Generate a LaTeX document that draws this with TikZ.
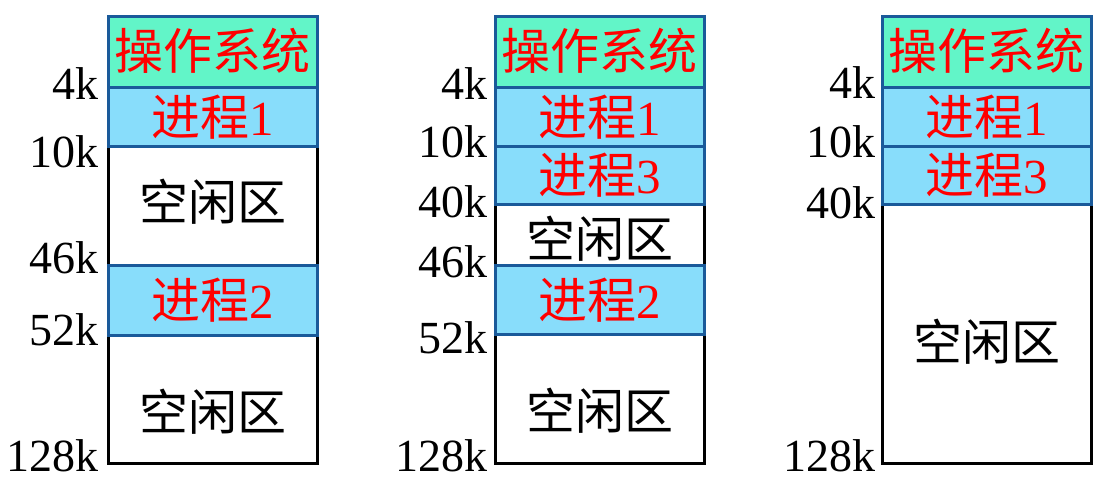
\documentclass[tikz,border=0pt]{standalone}
\usepackage{fontspec}
\setmainfont{Liberation Serif}
\newfontfamily\cjk{Noto Sans CJK SC}
\usetikzlibrary{positioning}
\definecolor{osgreen}{HTML}{62F5C8}
\definecolor{procblue}{HTML}{88DDFB}
\definecolor{segedge}{HTML}{1A5A9A}
\tikzset{
  seg/.style    = {rectangle, anchor=north west, minimum width=209pt, inner sep=0pt, line width=2.6pt},
  ossys/.style  = {seg, draw=segedge, fill=osgreen},
  proc/.style   = {seg, draw=segedge, fill=procblue},
  free/.style   = {seg, draw=black, fill=white, line width=2.8pt},
  segtxt/.style = {inner sep=0pt, font=\cjk\fontsize{49}{49}\selectfont, text=#1},
  addr/.style   = {anchor=east, inner sep=0pt, font=\fontsize{46}{46}\selectfont},
}

\begin{document}
\begin{tikzpicture}[x=1pt, y=-1pt]
  \useasboundingbox (0,0) rectangle (1105,486);

  % column 1: after process 3 leaves
  \foreach \n/\s/\t/\b/\d/\c/\txt in {%
    c1fa/free/145/264/-4/black/空闲区, c1fb/free/334/462/12/black/空闲区,
    c1os/ossys/15/86/-1/red/操作系统, c1pa/proc/86/145/0/red/{进程\rmfamily 1},
    c1pb/proc/264/334/0/red/{进程\rmfamily 2}%
  } {
    \pgfmathsetmacro\h{\b-\t}
    \node[\s, minimum height=\h pt] (\n) at (107,\t) {};
    \node[segtxt=\c] (\n txt) at ([yshift=-\d pt]\n.center) {\txt};
  }
  \foreach \n/\y/\t in {c1ka/84/4k, c1kb/152/10k, c1kc/258/46k, c1kd/330/52k, c1ke/456/128k}
    \node[addr] (\n) at (99,\y) {\t};

  % column 2: process 3 loaded at 10k
  \foreach \n/\s/\t/\b/\d/\c/\txt in {%
    c2fa/free/203/264/4/black/空闲区, c2fb/free/333/462/12/black/空闲区,
    c2os/ossys/15/86/-1/red/操作系统, c2pa/proc/86/145/0/red/{进程\rmfamily 1},
    c2pc/proc/145/203/0/red/{进程\rmfamily 3}, c2pb/proc/264/333/0/red/{进程\rmfamily 2}%
  } {
    \pgfmathsetmacro\h{\b-\t}
    \node[\s, minimum height=\h pt] (\n) at (494,\t) {};
    \node[segtxt=\c] (\n txt) at ([yshift=-\d pt]\n.center) {\txt};
  }
  \foreach \n/\y/\t in {c2ka/84/4k, c2kb/142/10k, c2kc/202/40k, c2kd/262/46k, c2ke/338/52k, c2kf/456/128k}
    \node[addr] (\n) at (488,\y) {\t};

  % column 3: process 2 released
  \foreach \n/\s/\t/\b/\d/\c/\txt in {%
    c3fa/free/203/462/8/black/空闲区,
    c3os/ossys/15/86/-1/red/操作系统, c3pa/proc/86/145/0/red/{进程\rmfamily 1},
    c3pc/proc/145/203/0/red/{进程\rmfamily 3}%
  } {
    \pgfmathsetmacro\h{\b-\t}
    \node[\s, minimum height=\h pt] (\n) at (881,\t) {};
    \node[segtxt=\c] (\n txt) at ([yshift=-\d pt]\n.center) {\txt};
  }
  \foreach \n/\y/\t in {c3ka/83/4k, c3kb/142/10k, c3kc/203/40k, c3kd/456/128k}
    \node[addr] (\n) at (876,\y) {\t};
\end{tikzpicture}
\end{document}
